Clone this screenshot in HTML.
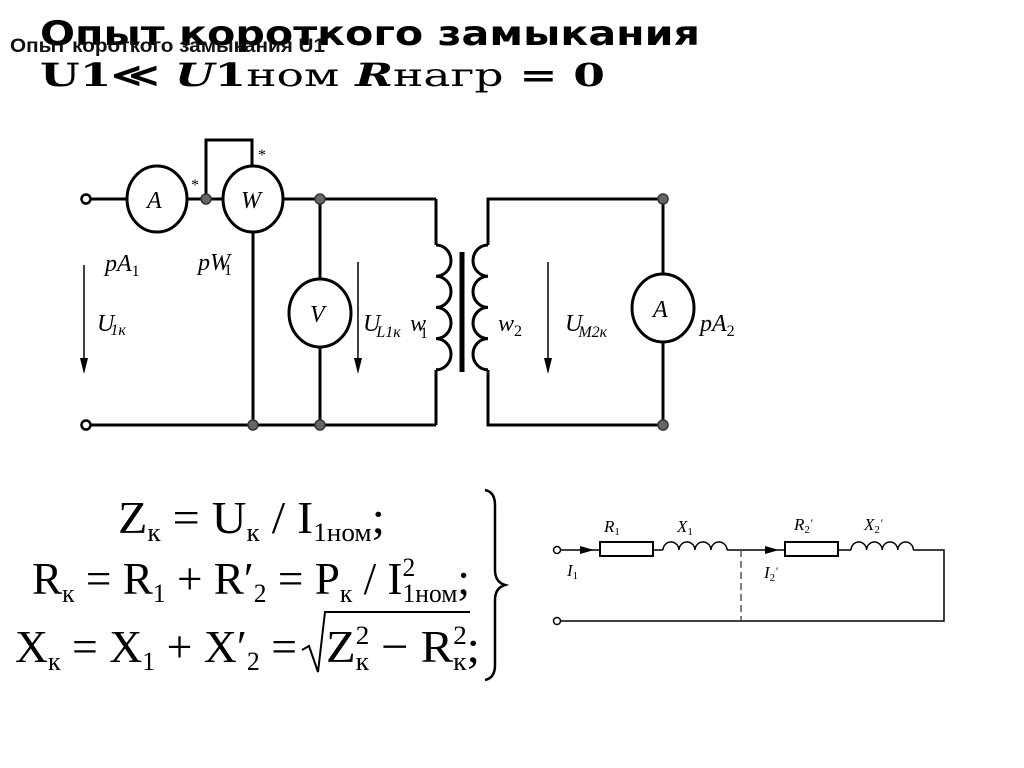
<!DOCTYPE html>
<html><head><meta charset="utf-8"><style>html,body{margin:0;padding:0;background:#fff}svg{display:block}</style></head>
<body>
<svg width="1024" height="768" viewBox="0 0 1024 768" xmlns="http://www.w3.org/2000/svg">
<rect width="1024" height="768" fill="#fff"/>
<!-- Title -->
<text x="40" y="45" font-family="DejaVu Sans" font-weight="bold" font-size="34" textLength="660" lengthAdjust="spacingAndGlyphs">Опыт короткого замыкания</text>
<text x="40" y="86" font-family="DejaVu Serif" font-weight="bold" font-size="32" textLength="565" lengthAdjust="spacingAndGlyphs">U1≪ <tspan font-style="italic">U</tspan>1<tspan font-weight="normal">ном</tspan> <tspan font-style="italic">R</tspan><tspan font-weight="normal">нагр</tspan> = 0</text>
<text x="10" y="52" font-family="Liberation Sans" font-weight="bold" font-size="19" textLength="315" lengthAdjust="spacingAndGlyphs" fill="#111">Опыт короткого замыкания U1</text>

<g stroke="#000" stroke-width="3" fill="none">
 <line x1="89" y1="199" x2="127" y2="199"/>
 <line x1="188" y1="199" x2="222" y2="199"/>
 <line x1="283" y1="199" x2="436" y2="199"/>
 <line x1="436" y1="199" x2="436" y2="245"/>
 <line x1="436" y1="370" x2="436" y2="425"/>
 <line x1="89" y1="425" x2="436" y2="425"/>
 <ellipse cx="157" cy="199" rx="30" ry="33"/>
 <ellipse cx="253" cy="199" rx="30" ry="33"/>
 <polyline points="206,199 206,140 252,140 252,166"/>
 <line x1="253" y1="232" x2="253" y2="425"/>
 <line x1="320" y1="199" x2="320" y2="280"/>
 <line x1="320" y1="346" x2="320" y2="425"/>
 <ellipse cx="320" cy="313" rx="31" ry="34"/>
 <path d="M436,245 a15,15.6 0 0 1 0,31.2 a15,15.6 0 0 1 0,31.2 a15,15.6 0 0 1 0,31.2 a15,15.6 0 0 1 0,31.2"/>
 <path d="M488,245 a15,15.6 0 0 0 0,31.2 a15,15.6 0 0 0 0,31.2 a15,15.6 0 0 0 0,31.2 a15,15.6 0 0 0 0,31.2"/>
 <polyline points="488,245 488,199 663,199 663,275"/>
 <polyline points="488,370 488,425 663,425 663,342"/>
 <ellipse cx="663" cy="308" rx="31" ry="34"/>
</g>
<line x1="462" y1="252" x2="462" y2="372" stroke="#000" stroke-width="5"/>
<g fill="#fff" stroke="#000" stroke-width="2.5">
 <circle cx="86" cy="199" r="4.5"/><circle cx="86" cy="425" r="4.5"/>
</g>
<g fill="#666" stroke="#333" stroke-width="1.5">
 <circle cx="206" cy="199" r="5"/><circle cx="320" cy="199" r="5"/><circle cx="320" cy="425" r="5"/>
 <circle cx="253" cy="425" r="5"/><circle cx="663" cy="199" r="5"/><circle cx="663" cy="425" r="5"/>
</g>
<g stroke="#000" stroke-width="1.5">
 <line x1="84" y1="265" x2="84" y2="362"/><line x1="358" y1="262" x2="358" y2="362"/><line x1="548" y1="262" x2="548" y2="362"/>
</g>
<g fill="#000">
 <polygon points="80,358 88,358 84,374"/><polygon points="354,358 362,358 358,374"/><polygon points="544,358 552,358 548,374"/>
</g>
<g font-family="Liberation Serif" font-style="italic" font-size="24" fill="#000">
 <text x="147" y="208">A</text><text x="241" y="208">W</text><text x="310" y="322">V</text><text x="653" y="317">A</text>
 <text x="105" y="271">pA<tspan font-size="16" font-style="normal" dy="5">1</tspan></text>
 <text x="198" y="270">pW<tspan font-size="16" font-style="normal" dy="5" dx="-6">1</tspan></text>
 <text x="97" y="331">U<tspan font-size="16" dy="4" dx="-4">1к</tspan></text>
 <text x="363" y="331">U<tspan font-size="16" dy="6" dx="-4">L1к</tspan></text>
 <text x="410" y="331">w<tspan font-size="16" font-style="normal" dy="7" dx="-6">1</tspan></text>
 <text x="498" y="331">w<tspan font-size="16" font-style="normal" dy="5">2</tspan></text>
 <text x="565" y="331">U<tspan font-size="16" dy="6" dx="-4">M2к</tspan></text>
 <text x="700" y="331">pA<tspan font-size="16" font-style="normal" dy="5">2</tspan></text>
 <text x="191" y="190" font-size="16" font-style="normal">*</text>
 <text x="258" y="160" font-size="16" font-style="normal">*</text>
</g>

<!-- formulas -->
<g font-family="Liberation Serif" font-size="46" fill="#000">
 <text x="118" y="533" textLength="267" lengthAdjust="spacingAndGlyphs">Z<tspan font-size="26" dy="8">к</tspan><tspan dy="-8"> = U</tspan><tspan font-size="26" dy="8">к</tspan><tspan dy="-8"> / I</tspan><tspan font-size="26" dy="8">1ном</tspan><tspan dy="-8">;</tspan></text>
 <text x="32" y="594" textLength="438" lengthAdjust="spacingAndGlyphs">R<tspan font-size="26" dy="8">к</tspan><tspan dy="-8"> = R</tspan><tspan font-size="26" dy="8">1</tspan><tspan dy="-8"> + R′</tspan><tspan font-size="26" dy="8">2</tspan><tspan dy="-8"> = P</tspan><tspan font-size="26" dy="8">к</tspan><tspan dy="-8"> / I</tspan><tspan font-size="26" dy="-18">2</tspan><tspan font-size="26" dx="-13" dy="26">1ном</tspan><tspan dy="-8">;</tspan></text>
 <text x="15" y="662" textLength="282" lengthAdjust="spacingAndGlyphs">X<tspan font-size="26" dy="8">к</tspan><tspan dy="-8"> = X</tspan><tspan font-size="26" dy="8">1</tspan><tspan dy="-8"> + X′</tspan><tspan font-size="26" dy="8">2</tspan><tspan dy="-8"> =</tspan></text>
 <text x="326" y="662" textLength="154" lengthAdjust="spacingAndGlyphs">Z<tspan font-size="26" dy="-18">2</tspan><tspan font-size="26" dx="-13" dy="26">к</tspan><tspan dy="-8"> − R</tspan><tspan font-size="26" dy="-18">2</tspan><tspan font-size="26" dx="-13" dy="26">к</tspan><tspan dy="-8">;</tspan></text>
</g>
<polyline points="302,650 309,646 318,672 325,612 470,612" fill="none" stroke="#000" stroke-width="2"/>
<path d="M485,490 q10,2 10,15 v65 q0,12 10,15 q-10,3 -10,15 v65 q0,13 -10,15" fill="none" stroke="#000" stroke-width="2.5"/>

<!-- equivalent circuit -->
<g stroke="#000" stroke-width="1.5" fill="none">
 <line x1="561" y1="550" x2="600" y2="550"/>
 <rect x="600" y="542" width="53" height="14" stroke-width="2"/>
 <line x1="653" y1="550" x2="663" y2="550"/>
 <path d="M663,550 a8,8 0 0 1 16,0 a8,8 0 0 1 16,0 a8,8 0 0 1 16,0 a8,8 0 0 1 16,0"/>
 <line x1="727" y1="550" x2="785" y2="550"/>
 <rect x="785" y="542" width="53" height="14" stroke-width="2"/>
 <line x1="838" y1="550" x2="851" y2="550"/>
 <path d="M851,550 a7.8,8 0 0 1 15.6,0 a7.8,8 0 0 1 15.6,0 a7.8,8 0 0 1 15.6,0 a7.8,8 0 0 1 15.6,0"/>
 <polyline points="913,550 944,550 944,621 561,621"/>
 <line x1="741" y1="550" x2="741" y2="620" stroke-dasharray="7,4" stroke="#555"/>
</g>
<g fill="#000"><polygon points="580,546 594,550 580,554"/><polygon points="765,546 779,550 765,554"/></g>
<g fill="#fff" stroke="#000" stroke-width="1.5"><circle cx="557" cy="550" r="3.5"/><circle cx="557" cy="621" r="3.5"/></g>
<g font-family="Liberation Serif" font-style="italic" font-size="17" fill="#000">
 <text x="604" y="532">R<tspan font-size="11" font-style="normal" dy="3">1</tspan></text>
 <text x="677" y="532">X<tspan font-size="11" font-style="normal" dy="3">1</tspan></text>
 <text x="567" y="576">I<tspan font-size="11" font-style="normal" dy="3">1</tspan></text>
 <text x="794" y="530">R<tspan font-size="11" font-style="normal" dy="3">2</tspan><tspan font-size="12" dy="-6">'</tspan></text>
 <text x="864" y="530">X<tspan font-size="11" font-style="normal" dy="3">2</tspan><tspan font-size="12" dy="-6">'</tspan></text>
 <text x="764" y="578">I<tspan font-size="11" font-style="normal" dy="3">2</tspan><tspan font-size="12" dy="-6">'</tspan></text>
</g>
</svg>
</body></html>
